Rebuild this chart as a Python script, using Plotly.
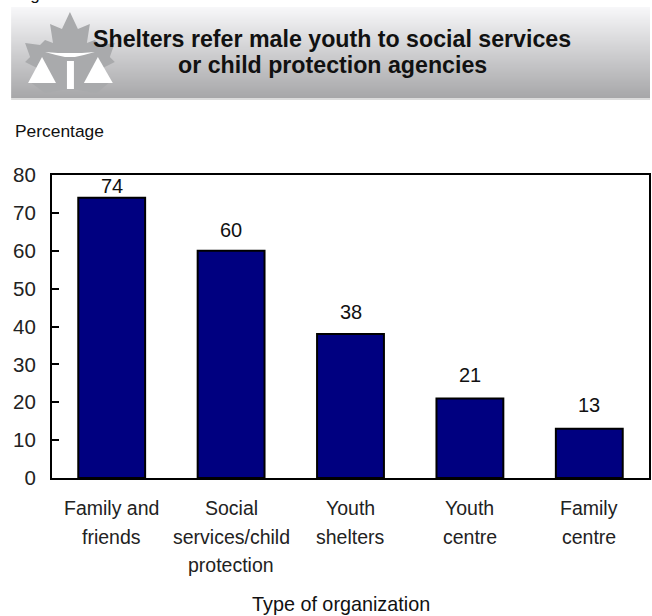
import plotly.graph_objects as go

WIDTH, HEIGHT = 652, 616
LEFT, RIGHT, TOP, BOTTOM = 52, 651, 175, 478

categories = ["Family and friends", "Social services/child protection",
              "Youth shelters", "Youth centre", "Family centre"]
category_lines = [["Family and", "friends"],
                  ["Social", "services/child", "protection"],
                  ["Youth", "shelters"],
                  ["Youth", "centre"],
                  ["Family", "centre"]]
values = [74, 60, 38, 21, 13]
label_shift = [3, 12, 13, 14, 15]
y_ticks = [0, 10, 20, 30, 40, 50, 60, 70, 80]
title_lines = ["Shelters refer male youth to social services", "or child protection agencies"]

FONT = "Liberation Sans, Arial, sans-serif"
NAVY = "#000080"


def px(x):
    return (x - LEFT) / (RIGHT - LEFT)


def py(y):
    return (BOTTOM - y) / (BOTTOM - TOP)


def polygon(points, close=True):
    path = "M " + " L ".join(f"{px(x):.5f},{py(y):.5f}" for x, y in points)
    return path + (" Z" if close else "")


def page_shape(path, fill):
    return dict(type="path", xref="paper", yref="paper", path=path,
                fillcolor=fill, line=dict(width=0), layer="below")


shapes = []

# Banner with a vertical fade from pale to mid grey
BANNER_TOP, BANNER_BOTTOM = 7, 98
for row in range(BANNER_TOP, BANNER_BOTTOM):
    t = (row - BANNER_TOP) / (BANNER_BOTTOM - BANNER_TOP - 1)
    level = round(247 + (167 - 247) * t)
    shade = f"rgb({level},{level},{min(level + 2, 255)})"
    shapes.append(dict(type="rect", xref="paper", yref="paper", layer="below",
                       x0=px(11), x1=px(652), y0=py(row), y1=py(row + 1),
                       fillcolor=shade, line=dict(width=0)))
shapes.append(dict(type="rect", xref="paper", yref="paper", layer="below",
                   x0=px(11), x1=px(652), y0=py(98), y1=py(100),
                   fillcolor="#dcdcdc", line=dict(width=0)))

# Maple leaf emblem with its white triangles, stem and crescent
leaf = [(70, 12), (78, 29), (90, 24), (87, 43), (95, 40), (100, 45), (115, 43),
        (110, 57), (115, 62), (103, 68), (110, 82), (97, 93), (78, 90), (62, 90),
        (45, 93), (30, 82), (37, 68), (25, 62), (30, 57), (25, 43), (40, 45),
        (45, 40), (53, 43), (50, 24), (62, 29)]
shapes.append(page_shape(polygon(leaf), "#a9aaac"))
shapes.append(page_shape(polygon([(28, 83), (42, 57), (56, 83)]), "white"))
shapes.append(page_shape(polygon([(84, 83), (98, 57), (113, 83)]), "white"))
shapes.append(page_shape(polygon([(67, 61), (74, 61), (74, 89), (67, 89)]), "white"))
shapes.append(page_shape(polygon([(45, 52), (58, 53), (70, 53), (82, 53), (95, 52),
                                  (84, 55), (75, 57), (65, 57), (56, 55)]), "white"))

annotations = []


def page_text(x, y, text, size, anchor="left", bold=False):
    if bold:
        text = f"<b>{text}</b>"
    annotations.append(dict(xref="paper", yref="paper", x=px(x), y=py(y), text=text,
                            showarrow=False, xanchor=anchor, yanchor="middle",
                            align="center", font=dict(family=FONT, size=size, color="#111111")))


page_text(14, -6, "Figure", 17)
page_text(333, 39, title_lines[0], 23.2, anchor="center", bold=True)
page_text(333, 65, title_lines[1], 23.2, anchor="center", bold=True)
page_text(13, 131, "Percentage", 17.4)
page_text(342, 604, "Type of organization", 19.8, anchor="center")

# Category names, one annotation per line for the wide line spacing
for cat, lines in zip(categories, category_lines):
    for i, line in enumerate(lines):
        annotations.append(dict(xref="x", yref="paper", x=cat, y=py(508 + i * 28.5), text=line,
                                showarrow=False, xanchor="center", yanchor="middle",
                                font=dict(family=FONT, size=19.5, color="#222222")))

# Value labels above the bars
for cat, value, shift in zip(categories, values, label_shift):
    annotations.append(dict(xref="x", yref="y", x=cat, y=value, text=str(value),
                            showarrow=False, xanchor="center", yanchor="bottom", yshift=shift - 4,
                            font=dict(family=FONT, size=20, color="#111111")))

fig = go.Figure(go.Bar(x=categories, y=values, marker=dict(color=NAVY, line=dict(color="black", width=2)),
                       width=0.56))

fig.update_layout(
    width=WIDTH, height=HEIGHT,
    margin=dict(l=LEFT, r=WIDTH - RIGHT, t=TOP, b=HEIGHT - BOTTOM, pad=0),
    paper_bgcolor="white", plot_bgcolor="white",
    showlegend=False, shapes=shapes, annotations=annotations,
    font=dict(family=FONT),
)
fig.update_xaxes(type="category", showticklabels=False, ticks="", showgrid=False, zeroline=False,
                 showline=True, linecolor="black", linewidth=2, mirror=True)
fig.update_yaxes(range=[0, 80], tickvals=y_ticks, ticks="inside", ticklen=7, tickwidth=2, tickcolor="black",
                 showgrid=False, zeroline=False, showline=True, linecolor="black", linewidth=2, mirror=True,
                 ticklabelstandoff=10,
                 tickfont=dict(family=FONT, size=20.5, color="#222222"))

fig.write_html("out.html", config=dict(displayModeBar=False))
